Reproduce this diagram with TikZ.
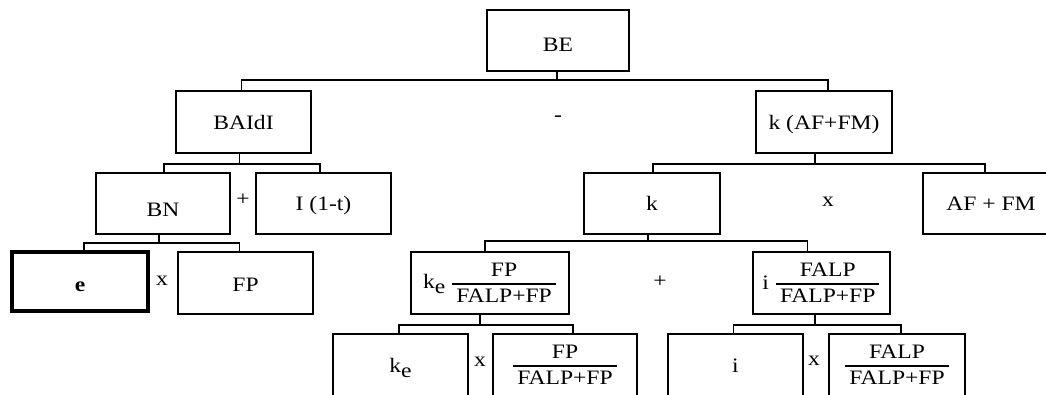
\documentclass[tikz,border=0pt]{standalone}
\usepackage{amsmath}
\usepackage{graphicx}
\usepackage{fontspec}
\setmainfont{Liberation Serif}[FakeStretch=1.15]
\newcommand\fracbox[2]{$\genfrac{}{}{1.8pt}{}{\mbox{#1}\rule[-4.5pt]{0pt}{1pt}}{\mbox{\rule{0pt}{16.4pt}\hspace{4pt}#2\hspace{4pt}}}$}
\newcommand\kesub{k\raisebox{-5pt}{e}}
\newcommand\down[2]{\raisebox{-#1}[\height][\depth]{#2}}
\tikzset{
  box/.style={draw, line width=1.5pt, inner sep=0pt, outer sep=0pt, minimum height=61pt,
    font=\fontsize{20.5}{24}\selectfont, text height=14pt, text depth=0pt},
  fbox/.style={draw, line width=1.5pt, inner sep=0pt, outer sep=0pt, minimum height=62pt,
    font=\fontsize{20.5}{24}\selectfont},
  op/.style={inner sep=0pt, font=\fontsize{20.5}{24}\selectfont},
  conn/.style={line width=1.5pt, line join=miter}
}
\begin{document}
\begin{tikzpicture}[x=1pt,y=-1pt]
\useasboundingbox (0,0) rectangle (1046,394);
\clip (0,0) rectangle (1046,394);
% level 0
\node[box, minimum width=142pt] (BE) at (558,40.5) {\down{3.5pt}{BE}};
% level 1
\node[box, minimum width=135pt, minimum height=62pt] (BAIdI) at (243.5,122) {BAIdI};
\node[box, minimum width=136pt, minimum height=62pt] (KAF) at (824,122) {k (AF+FM)};
\node[op] (minus) at (558,119) {-};
% level 2
\node[box, minimum width=134pt] (BN) at (163,203.5) {\down{5.5pt}{BN}};
\node[box, minimum width=135pt] (I1t) at (323.5,203.5) {I (1-t)};
\node[op] (plus1) at (243,200) {+};
\node[box, minimum width=136pt] (K) at (652,203.5) {k};
\node[box, minimum width=136pt] (AFFM) at (991,203.5) {AF + FM};
\node[op] (times1) at (828,202) {x};
% level 3
\node[box, minimum width=136pt, minimum height=59pt, line width=4.5pt] (E) at (80,281.5) {\down{2.5pt}{\textbf{e}}};
\node[box, minimum width=135pt, minimum height=62pt] (FP) at (245.5,283) {\down{1pt}{FP}};
\node[op] (times2) at (162,281) {x};
\node[fbox, minimum width=158pt] (KEF) at (490,283) {\kesub\ \fracbox{FP}{FALP+FP}};
\node[fbox, minimum width=137pt] (IF) at (821.5,283) {i \fracbox{FALP}{FALP+FP}};
\node[op] (plus2) at (660,282) {+};
% level 4
\node[box, minimum width=135pt, minimum height=62pt] (KE) at (400.5,365) {\kesub};
\node[fbox, minimum width=144pt] (FPF) at (565,365) {\fracbox{FP}{FALP+FP}};
\node[op] (times3) at (480,362) {x};
\node[box, minimum width=135pt, minimum height=62pt] (I) at (735.5,365) {i};
\node[fbox, minimum width=136pt] (FALPF) at (897,365) {\fracbox{FALP}{FALP+FP}};
\node[op] (times4) at (814,361) {x};
% connectors
\draw[conn] ([xshift=-1pt]BE.south) -- ++(0,9) coordinate (j0);
\draw[conn] (j0) -| ([xshift=-2pt]BAIdI.north);
\draw[conn] (j0) -| ([xshift=4pt]KAF.north);
\draw[conn] ([xshift=-4pt]BAIdI.south) -- ++(0,11) coordinate (j1);
\draw[conn] (j1) -| ([xshift=1pt]BN.north);
\draw[conn] (j1) -| ([xshift=-3.5pt]I1t.north);
\draw[conn] ([xshift=-9pt]KAF.south) -- ++(0,11) coordinate (j2);
\draw[conn] (j2) -| ([xshift=1pt]K.north);
\draw[conn] (j2) -| ([xshift=-6pt]AFFM.north);
\draw[conn] ([xshift=-4pt]BN.south) -- ++(0,9) coordinate (j3);
\draw[conn] (j3) -| ([xshift=4pt]E.north);
\draw[conn] (j3) -| ([xshift=-6pt]FP.north);
\draw[conn] ([xshift=-4pt]K.south) -- ++(0,7) coordinate (j4);
\draw[conn] (j4) -| ([xshift=-5pt]KEF.north);
\draw[conn] (j4) -| ([xshift=-14pt]IF.north);
\draw[conn] ([xshift=-10pt]KEF.south) -- ++(0,11) coordinate (j5);
\draw[conn] (j5) -| ([xshift=-1.5pt]KE.north);
\draw[conn] (j5) -| ([xshift=8pt]FPF.north);
\draw[conn] ([xshift=-6.5pt]IF.south) -- ++(0,11) coordinate (j6);
\draw[conn] (j6) -| ([xshift=-2pt]I.north);
\draw[conn] (j6) -| ([xshift=4pt]FALPF.north);
\end{tikzpicture}
\end{document}
